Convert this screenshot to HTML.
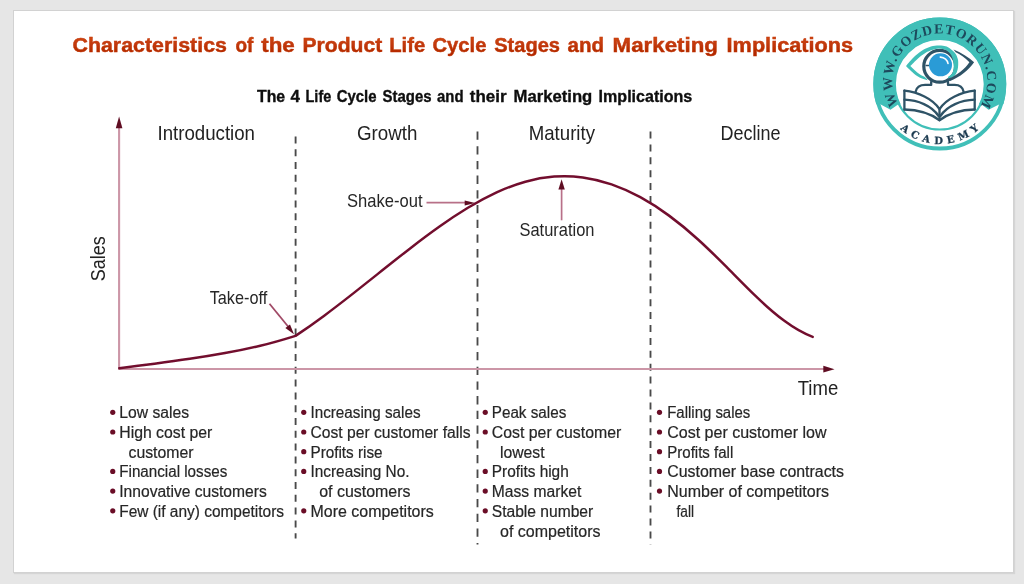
<!DOCTYPE html>
<html lang="en">
<head>
<meta charset="utf-8">
<title>Characteristics of the Product Life Cycle Stages and Marketing Implications</title>
<style>
html,body{margin:0;padding:0;}
body{width:1024px;height:584px;overflow:hidden;background:#e6e6e6;position:relative;font-family:"Liberation Sans",sans-serif;}
.card{position:absolute;left:13px;top:10px;width:999px;height:561px;background:#fff;border:1px solid #d2d2d2;box-shadow:1px 1px 1px rgba(0,0,0,.07);}
svg{position:absolute;left:0;top:0;}
text{font-family:"Liberation Sans",sans-serif;}
.title{font-weight:bold;font-size:20.6px;fill:url(#tg);stroke:#c03409;stroke-width:.45px;}
.sub{font-weight:bold;font-size:16.1px;fill:#0a0a0a;stroke:#0a0a0a;stroke-width:.3px;}
.stage{font-size:20.6px;fill:#222;}
.lab{font-size:17.8px;fill:#262626;}
.b{font-size:16px;fill:#262626;stroke:#262626;stroke-width:.2px;}
.dash{stroke:#484848;stroke-width:1.85;fill:none;}
.ax{stroke:#cc96a7;stroke-width:2.1;fill:none;}
.thin{stroke:#b87088;stroke-width:1.7;fill:none;}
.serif{font-family:"Liberation Serif",serif;font-weight:bold;}
.slab{font-family:"DejaVu Serif","Liberation Serif",serif;font-weight:bold;}
</style>
</head>
<body>
<div class="card"></div>
<svg width="1024" height="584" viewBox="0 0 1024 584">
<defs><linearGradient id="tg" x1="0" y1="0" x2="0" y2="1"><stop offset="0.15" stop-color="#d0480f"/><stop offset="0.85" stop-color="#b22802"/></linearGradient><filter id="soft" x="0" y="0" width="1024" height="584" filterUnits="userSpaceOnUse"><feGaussianBlur stdDeviation="0.6"/></filter><filter id="soft2" x="860" y="0" width="164" height="170" filterUnits="userSpaceOnUse"><feGaussianBlur stdDeviation="0.45"/></filter></defs>
<g id="chart" filter="url(#soft)">
<text class="title" y="52.3"><tspan x="72.5" textLength="154.4" lengthAdjust="spacingAndGlyphs">Characteristics</tspan> <tspan x="235.5" textLength="17.9" lengthAdjust="spacingAndGlyphs">of</tspan> <tspan x="261.2" textLength="33.6" lengthAdjust="spacingAndGlyphs">the</tspan> <tspan x="302.5" textLength="79.7" lengthAdjust="spacingAndGlyphs">Product</tspan> <tspan x="389.2" textLength="36.0" lengthAdjust="spacingAndGlyphs">Life</tspan> <tspan x="432.5" textLength="53.9" lengthAdjust="spacingAndGlyphs">Cycle</tspan> <tspan x="494.2" textLength="65.8" lengthAdjust="spacingAndGlyphs">Stages</tspan> <tspan x="567.6" textLength="36.5" lengthAdjust="spacingAndGlyphs">and</tspan> <tspan x="612.6" textLength="105.4" lengthAdjust="spacingAndGlyphs">Marketing</tspan> <tspan x="726.6" textLength="126.4" lengthAdjust="spacingAndGlyphs">Implications</tspan></text>
<text class="sub" y="101.5"><tspan x="257.0" textLength="28.2" lengthAdjust="spacingAndGlyphs">The</tspan> <tspan x="290.6" textLength="9.4" lengthAdjust="spacingAndGlyphs">4</tspan> <tspan x="305.5" textLength="25.8" lengthAdjust="spacingAndGlyphs">Life</tspan> <tspan x="336.7" textLength="39.9" lengthAdjust="spacingAndGlyphs">Cycle</tspan> <tspan x="382.5" textLength="49.0" lengthAdjust="spacingAndGlyphs">Stages</tspan> <tspan x="437.0" textLength="26.5" lengthAdjust="spacingAndGlyphs">and</tspan> <tspan x="469.8" textLength="36.8" lengthAdjust="spacingAndGlyphs">their</tspan> <tspan x="513.5" textLength="78.8" lengthAdjust="spacingAndGlyphs">Marketing</tspan> <tspan x="598.6" textLength="93.7" lengthAdjust="spacingAndGlyphs">Implications</tspan></text>

<text class="stage" x="157.5" y="140.3" textLength="97.5" lengthAdjust="spacingAndGlyphs">Introduction</text>
<text class="stage" x="357" y="140.3" textLength="60.5" lengthAdjust="spacingAndGlyphs">Growth</text>
<text class="stage" x="528.75" y="140.3" textLength="66.25" lengthAdjust="spacingAndGlyphs">Maturity</text>
<text class="stage" x="720.5" y="140.3" textLength="60" lengthAdjust="spacingAndGlyphs">Decline</text>
<text class="stage" x="797.7" y="394.5" textLength="40.5" lengthAdjust="spacingAndGlyphs">Time</text>
<text class="stage" transform="translate(105,281.25) rotate(-90)" x="0" y="0" textLength="45" lengthAdjust="spacingAndGlyphs">Sales</text>

<text class="lab" x="347" y="207" textLength="75.5" lengthAdjust="spacingAndGlyphs">Shake-out</text>
<text class="lab" x="519.5" y="235.75" textLength="75" lengthAdjust="spacingAndGlyphs">Saturation</text>
<text class="lab" x="209.7" y="303.9" textLength="57.5" lengthAdjust="spacingAndGlyphs">Take-off</text>

<line x1="295.6" y1="136.4" x2="295.6" y2="538.5" class="dash" stroke-dasharray="7 5.8"/>
<line x1="477.5" y1="131.5" x2="477.5" y2="544.5" class="dash" stroke-dasharray="8.3 6.4"/>
<line x1="650.5" y1="131.5" x2="650.5" y2="544.5" class="dash" stroke-dasharray="7 5.9"/>

<!-- axes -->
<path class="ax" d="M119.1,126 V369 H826"/>
<path d="M119.1,116.6 L122.4,128.2 L115.8,128.2 Z" fill="#5f0b22"/>
<path d="M834.5,369.2 L823.3,365.8 L823.3,372.6 Z" fill="#5f0b22"/>
<!-- annotations -->
<path class="thin" d="M426.5,202.7 H466"/>
<path d="M475.3,203 L464.7,200.4 L464.7,205.6 Z" fill="#5f0b22"/>
<path class="thin" d="M561.6,220.3 V188"/>
<path d="M561.6,179.2 L564.8,189.6 L558.4,189.6 Z" fill="#5f0b22"/>
<path class="thin" style="stroke:#a04a66;stroke-width:1.8" d="M269.5,303.75 L288.5,327"/>
<path d="M294,334.2 L285.4,328.1 L290,324.4 Z" fill="#5f0b22"/>
<!-- curve -->
<path d="M119.30,368.20 C131.05,366.63 142.79,365.22 154.54,363.68 C166.29,362.15 178.03,360.58 189.78,358.86 C201.53,357.13 213.27,355.25 225.02,353.10 C236.77,350.96 248.51,348.54 260.26,345.74 C272.01,342.94 283.75,339.52 295.50,335.84 C305.08,329.51 314.66,322.72 324.23,315.64 C333.81,308.55 343.39,301.16 352.97,293.63 C362.54,286.10 372.12,278.44 381.70,270.80 C391.28,263.16 400.86,255.54 410.43,248.14 C420.01,240.74 429.59,233.55 439.17,226.76 C448.74,219.96 458.32,213.57 467.90,207.77 C477.48,201.98 487.06,196.78 496.63,192.38 C506.21,187.98 515.79,184.38 525.37,181.71 C534.94,179.04 544.52,177.31 554.10,176.58 C563.68,175.85 573.26,176.13 582.83,177.44 C592.41,178.74 601.99,181.06 611.57,184.37 C621.14,187.68 630.72,191.97 640.30,197.20 C649.88,202.43 659.46,208.60 669.03,215.63 C678.61,222.67 688.19,230.58 697.77,239.24 C707.34,247.90 716.92,257.30 726.50,266.94 C736.08,276.58 745.66,286.45 755.23,295.67 C764.81,304.90 774.39,313.46 783.97,320.57 C793.54,327.68 803.12,333.33 812.70,336.89" fill="none" stroke="#720f2d" stroke-width="2.5" stroke-linejoin="round" stroke-linecap="round"/>
<circle cx="112.75" cy="412.30" r="2.6" fill="#6a0e28"/>
<text class="b" x="119.25" y="418.30" textLength="69.75" lengthAdjust="spacingAndGlyphs">Low sales</text>
<circle cx="112.75" cy="432.00" r="2.6" fill="#6a0e28"/>
<text class="b" x="119.25" y="438.00" textLength="93.00" lengthAdjust="spacingAndGlyphs">High cost per</text>
<text class="b" x="128.50" y="457.70" textLength="65.00" lengthAdjust="spacingAndGlyphs">customer</text>
<circle cx="112.75" cy="471.40" r="2.6" fill="#6a0e28"/>
<text class="b" x="119.25" y="477.40" textLength="108.00" lengthAdjust="spacingAndGlyphs">Financial losses</text>
<circle cx="112.75" cy="491.10" r="2.6" fill="#6a0e28"/>
<text class="b" x="119.25" y="497.10" textLength="147.50" lengthAdjust="spacingAndGlyphs">Innovative customers</text>
<circle cx="112.75" cy="510.80" r="2.6" fill="#6a0e28"/>
<text class="b" x="119.25" y="516.80" textLength="164.75" lengthAdjust="spacingAndGlyphs">Few (if any) competitors</text>
<circle cx="303.75" cy="412.30" r="2.6" fill="#6a0e28"/>
<text class="b" x="310.50" y="418.30" textLength="110.00" lengthAdjust="spacingAndGlyphs">Increasing sales</text>
<circle cx="303.75" cy="432.00" r="2.6" fill="#6a0e28"/>
<text class="b" x="310.50" y="438.00" textLength="160.00" lengthAdjust="spacingAndGlyphs">Cost per customer falls</text>
<circle cx="303.75" cy="451.70" r="2.6" fill="#6a0e28"/>
<text class="b" x="310.50" y="457.70" textLength="72.00" lengthAdjust="spacingAndGlyphs">Profits rise</text>
<circle cx="303.75" cy="471.40" r="2.6" fill="#6a0e28"/>
<text class="b" x="310.50" y="477.40" textLength="99.00" lengthAdjust="spacingAndGlyphs">Increasing No.</text>
<text class="b" x="319.25" y="497.10" textLength="91.25" lengthAdjust="spacingAndGlyphs">of customers</text>
<circle cx="303.75" cy="510.80" r="2.6" fill="#6a0e28"/>
<text class="b" x="310.50" y="516.80" textLength="123.25" lengthAdjust="spacingAndGlyphs">More competitors</text>
<circle cx="485.25" cy="412.30" r="2.6" fill="#6a0e28"/>
<text class="b" x="491.75" y="418.30" textLength="74.50" lengthAdjust="spacingAndGlyphs">Peak sales</text>
<circle cx="485.25" cy="432.00" r="2.6" fill="#6a0e28"/>
<text class="b" x="491.75" y="438.00" textLength="129.50" lengthAdjust="spacingAndGlyphs">Cost per customer</text>
<text class="b" x="500.00" y="457.70" textLength="44.50" lengthAdjust="spacingAndGlyphs">lowest</text>
<circle cx="485.25" cy="471.40" r="2.6" fill="#6a0e28"/>
<text class="b" x="491.75" y="477.40" textLength="77.00" lengthAdjust="spacingAndGlyphs">Profits high</text>
<circle cx="485.25" cy="491.10" r="2.6" fill="#6a0e28"/>
<text class="b" x="491.75" y="497.10" textLength="89.50" lengthAdjust="spacingAndGlyphs">Mass market</text>
<circle cx="485.25" cy="510.80" r="2.6" fill="#6a0e28"/>
<text class="b" x="491.75" y="516.80" textLength="101.50" lengthAdjust="spacingAndGlyphs">Stable number</text>
<text class="b" x="500.00" y="536.50" textLength="100.50" lengthAdjust="spacingAndGlyphs">of competitors</text>
<circle cx="659.50" cy="412.30" r="2.6" fill="#6a0e28"/>
<text class="b" x="667.25" y="418.30" textLength="83.00" lengthAdjust="spacingAndGlyphs">Falling sales</text>
<circle cx="659.50" cy="432.00" r="2.6" fill="#6a0e28"/>
<text class="b" x="667.25" y="438.00" textLength="159.25" lengthAdjust="spacingAndGlyphs">Cost per customer low</text>
<circle cx="659.50" cy="451.70" r="2.6" fill="#6a0e28"/>
<text class="b" x="667.25" y="457.70" textLength="66.00" lengthAdjust="spacingAndGlyphs">Profits fall</text>
<circle cx="659.50" cy="471.40" r="2.6" fill="#6a0e28"/>
<text class="b" x="667.25" y="477.40" textLength="176.75" lengthAdjust="spacingAndGlyphs">Customer base contracts</text>
<circle cx="659.50" cy="491.10" r="2.6" fill="#6a0e28"/>
<text class="b" x="667.25" y="497.10" textLength="161.75" lengthAdjust="spacingAndGlyphs">Number of competitors</text>
<text class="b" x="676.50" y="516.80" textLength="17.50" lengthAdjust="spacingAndGlyphs">fall</text>

</g>
<g id="logo" filter="url(#soft2)">
<defs>
<clipPath id="bannerclip"><path d="M860,0 H1024 V104.2 H999.5 L988.5,109.7 L981.3,104.2 H898.4 L890.5,109.7 L880.3,104.2 H860 Z"/></clipPath>
<path id="arcTop" d="M898.46,104.39 A47.5,47.5 0 1 1 970.33,117.39"/>
<path id="arcBot" d="M900.04,128.94 A60,60 0 0 0 985.76,122.57"/>
</defs>
<circle cx="939.8" cy="84.0" r="66.4" fill="#fff"/>
<circle cx="939.8" cy="84.0" r="64.5" fill="none" stroke="#3fbfb8" stroke-width="3.8"/>
<circle cx="939.8" cy="84.0" r="55.2" fill="none" stroke="#3fbfb8" stroke-width="22.6" clip-path="url(#bannerclip)"/>
<circle cx="939.8" cy="84.0" r="45.5" fill="none" stroke="#3fbfb8" stroke-width="2.1"/>
<text class="serif" font-size="13.8" fill="#1f4a5c"><textPath href="#arcTop" textLength="199.5" lengthAdjust="spacing">WWW.GOZDETORUN.COM</textPath></text>
<text class="slab" font-size="10" fill="#1b3a50" stroke="#1b3a50" stroke-width=".25"><textPath href="#arcBot" textLength="86.5" lengthAdjust="spacing">ACADEMY</textPath></text>
<g fill="none" stroke="#2f5266" stroke-width="2.3" stroke-linejoin="round" stroke-linecap="round">
<path d="M904.4,90.7 V109.5 M974.7,90.7 V109.5 M939.5,109.1 V120.2"/>
<path d="M904.4,90.7 C918,92.2 932.5,98.5 939.5,109.1 C946.5,98.5 961,92.2 974.7,90.7"/>
<path d="M904.4,99.7 C918,100.3 931.5,105.5 938.6,116 M974.7,99.7 C961,100.3 947.5,105.5 940.4,116"/>
<path d="M904.4,109.5 C918,109.8 930,113.2 939.5,120.2 C949,113.2 961,109.8 974.7,109.5"/>
<path d="M931.2,82 V84.9 H925.1 C919.5,84.9 916.5,87.5 915.6,91.8 M948,82 V84.9 H954.6 C960,84.9 962.8,87.5 963.6,91.8"/>
</g>
<circle cx="939.7" cy="66.3" r="15.9" fill="none" stroke="#2f5266" stroke-width="3.2"/>
<path d="M953.5,49.4 C962,53 969,57.5 974.1,62.3 C969,70 960,77 949.7,81.3 L948.3,78.8 C957,75.5 965,69 969.4,62.3 C965,57.5 960,54 955.7,52.2 Z" fill="#2f5266"/>
<path d="M906.00,66.10 C907.17,64.75 910.43,60.50 913.00,58.00 C915.57,55.50 918.73,52.88 921.40,51.10 C924.07,49.32 926.43,48.22 929.00,47.30 C931.57,46.38 934.47,45.85 936.80,45.60 C939.13,45.35 941.13,45.52 943.00,45.80 C944.87,46.08 946.03,46.13 948.00,47.30 C949.97,48.47 953.17,50.85 954.80,52.80 C956.43,54.75 957.23,57.00 957.80,59.00 C958.37,61.00 958.25,62.97 958.20,64.80 C958.15,66.63 957.92,68.42 957.50,70.00 C957.08,71.58 956.53,73.13 955.70,74.30 C954.87,75.47 953.78,76.32 952.50,77.00 C951.22,77.68 948.75,78.17 948.00,78.40 L948.00,76.90 C948.50,76.55 950.22,75.53 951.00,74.80 C951.78,74.07 952.27,73.55 952.70,72.50 C953.13,71.45 953.45,69.78 953.60,68.50 C953.75,67.22 953.70,66.22 953.60,64.80 C953.50,63.38 953.37,61.57 953.00,60.00 C952.63,58.43 952.07,56.68 951.40,55.40 C950.73,54.12 949.85,53.15 949.00,52.30 C948.15,51.45 947.38,50.85 946.30,50.30 C945.22,49.75 943.80,49.28 942.50,49.00 C941.20,48.72 940.25,48.43 938.50,48.60 C936.75,48.77 934.13,49.30 932.00,50.00 C929.87,50.70 928.03,51.38 925.70,52.80 C923.37,54.22 920.57,56.28 918.00,58.50 C915.43,60.72 911.58,64.83 910.30,66.10 L910.30,66.10 C911.08,66.83 913.43,69.13 915.00,70.50 C916.57,71.87 917.92,73.10 919.70,74.30 C921.48,75.50 924.38,76.70 925.70,77.70 C927.02,78.70 927.28,79.87 927.60,80.30 L927.60,80.30 C926.67,80.02 923.75,79.32 922.00,78.60 C920.25,77.88 918.93,77.27 917.10,76.00 C915.27,74.73 912.85,72.65 911.00,71.00 C909.15,69.35 906.83,66.92 906.00,66.10 Z" fill="#3fbfb8"/>
<path d="M925.5,65.5 H929.2" stroke="#2f5266" stroke-width="1.5"/>
<circle cx="940.5" cy="64.8" r="11.5" fill="#2a9bd6"/>
<path d="M940.3,57.1 C944.5,57.4 947.5,60.3 948,63.5" fill="none" stroke="#fff" stroke-width="1.6" stroke-linecap="round"/>
</g>
</svg>
</body>
</html>
